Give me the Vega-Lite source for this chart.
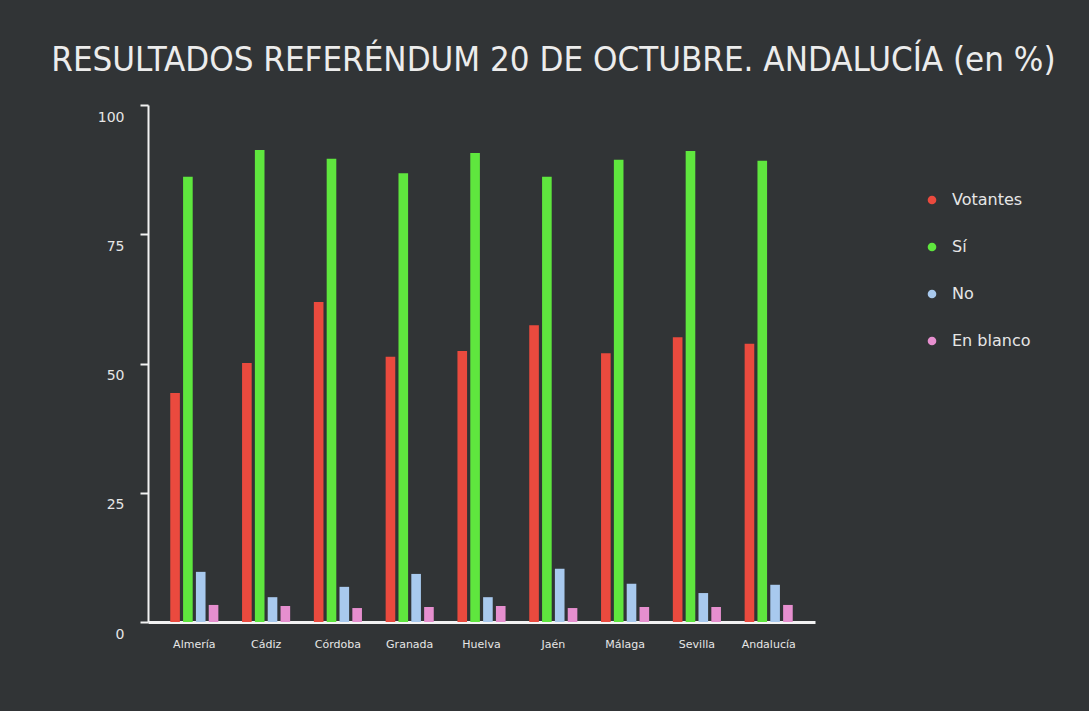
{
  "$schema": "https://vega.github.io/schema/vega-lite/v6.json",
  "autosize": "none",
  "width": 667,
  "height": 517,
  "padding": {"left": 148, "top": 105, "right": 274, "bottom": 89},
  "background": "#313436",
  "title": {
    "text": "RESULTADOS REFERÉNDUM 20 DE OCTUBRE. ANDALUCÍA (en %)",
    "anchor": "start",
    "dx": -46,
    "offset": 25,
    "font": "DejaVu Sans Condensed",
    "fontSize": 34.6,
    "fontWeight": "normal",
    "color": "#ececec"
  },
  "data": {
    "values": [
      {"provincia": "Almería", "serie": "Votantes", "valor": 44.3},
      {"provincia": "Almería", "serie": "Sí", "valor": 86.1},
      {"provincia": "Almería", "serie": "No", "valor": 9.7},
      {"provincia": "Almería", "serie": "En blanco", "valor": 3.3},
      {"provincia": "Cádiz", "serie": "Votantes", "valor": 50.1},
      {"provincia": "Cádiz", "serie": "Sí", "valor": 91.3},
      {"provincia": "Cádiz", "serie": "No", "valor": 4.8},
      {"provincia": "Cádiz", "serie": "En blanco", "valor": 3.1},
      {"provincia": "Córdoba", "serie": "Votantes", "valor": 61.9},
      {"provincia": "Córdoba", "serie": "Sí", "valor": 89.6},
      {"provincia": "Córdoba", "serie": "No", "valor": 6.8},
      {"provincia": "Córdoba", "serie": "En blanco", "valor": 2.7},
      {"provincia": "Granada", "serie": "Votantes", "valor": 51.3},
      {"provincia": "Granada", "serie": "Sí", "valor": 86.8},
      {"provincia": "Granada", "serie": "No", "valor": 9.3},
      {"provincia": "Granada", "serie": "En blanco", "valor": 2.9},
      {"provincia": "Huelva", "serie": "Votantes", "valor": 52.4},
      {"provincia": "Huelva", "serie": "Sí", "valor": 90.7},
      {"provincia": "Huelva", "serie": "No", "valor": 4.8},
      {"provincia": "Huelva", "serie": "En blanco", "valor": 3.1},
      {"provincia": "Jaén", "serie": "Votantes", "valor": 57.4},
      {"provincia": "Jaén", "serie": "Sí", "valor": 86.1},
      {"provincia": "Jaén", "serie": "No", "valor": 10.3},
      {"provincia": "Jaén", "serie": "En blanco", "valor": 2.7},
      {"provincia": "Málaga", "serie": "Votantes", "valor": 52.0},
      {"provincia": "Málaga", "serie": "Sí", "valor": 89.4},
      {"provincia": "Málaga", "serie": "No", "valor": 7.4},
      {"provincia": "Málaga", "serie": "En blanco", "valor": 2.9},
      {"provincia": "Sevilla", "serie": "Votantes", "valor": 55.1},
      {"provincia": "Sevilla", "serie": "Sí", "valor": 91.1},
      {"provincia": "Sevilla", "serie": "No", "valor": 5.6},
      {"provincia": "Sevilla", "serie": "En blanco", "valor": 2.9},
      {"provincia": "Andalucía", "serie": "Votantes", "valor": 53.8},
      {"provincia": "Andalucía", "serie": "Sí", "valor": 89.2},
      {"provincia": "Andalucía", "serie": "No", "valor": 7.2},
      {"provincia": "Andalucía", "serie": "En blanco", "valor": 3.3}
    ]
  },
  "mark": {"type": "bar"},
  "encoding": {
    "x": {
      "field": "provincia",
      "type": "nominal",
      "sort": null,
      "title": null,
      "scale": {"paddingInner": 0.33, "paddingOuter": 0.31},
      "axis": {
        "labelAngle": 0,
        "labelColor": "#e6e6e6",
        "labelFont": "DejaVu Sans",
        "labelFontSize": 11,
        "labelPadding": 16,
        "labelOverlap": false,
        "ticks": false,
        "domainColor": "#f2f2f2",
        "domainWidth": 3,
        "grid": false
      }
    },
    "xOffset": {
      "field": "serie",
      "type": "nominal",
      "sort": ["Votantes", "Sí", "No", "En blanco"],
      "scale": {"paddingInner": 0.25, "paddingOuter": 0}
    },
    "y": {
      "field": "valor",
      "type": "quantitative",
      "title": null,
      "scale": {"domain": [0, 100], "nice": false},
      "axis": {
        "values": [0, 25, 50, 75, 100],
        "grid": false,
        "labelColor": "#e6e6e6",
        "labelFont": "DejaVu Sans",
        "labelFontSize": 14,
        "labelPadding": 16,
        "labelOffset": 12,
        "tickColor": "#f2f2f2",
        "tickWidth": 2,
        "tickSize": 8,
        "domainColor": "#f2f2f2",
        "domainWidth": 2
      }
    },
    "color": {
      "field": "serie",
      "type": "nominal",
      "sort": ["Votantes", "Sí", "No", "En blanco"],
      "title": null,
      "scale": {
        "domain": ["Votantes", "Sí", "No", "En blanco"],
        "range": ["#ea4a3e", "#5fe63e", "#a8c9ee", "#e68fcf"]
      },
      "legend": {
        "orient": "none",
        "legendX": 776,
        "legendY": 87,
        "symbolType": "circle",
        "symbolSize": 75,
        "symbolStrokeWidth": 0,
        "labelColor": "#e6e6e6",
        "labelFont": "DejaVu Sans",
        "labelFontSize": 16,
        "labelOffset": 12,
        "rowPadding": 31
      }
    }
  },
  "config": {
    "view": {"stroke": null}
  }
}
